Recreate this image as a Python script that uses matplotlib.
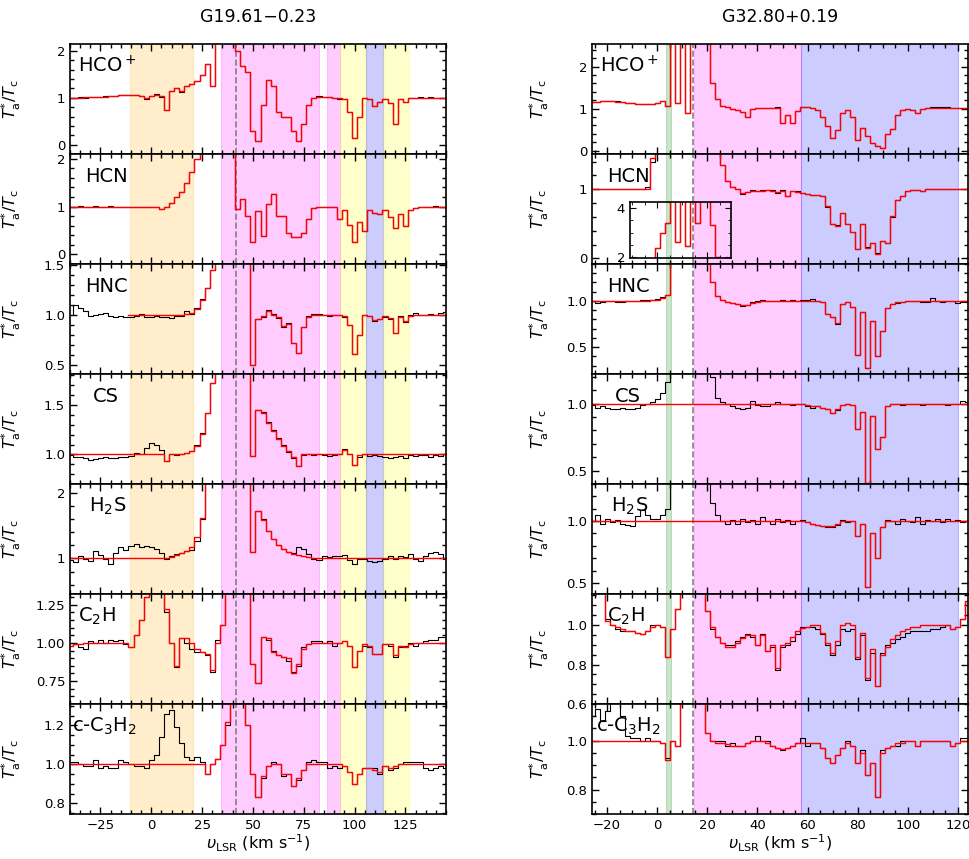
import numpy as np
import matplotlib.pyplot as plt
from matplotlib.ticker import MultipleLocator, AutoMinorLocator

plt.rcParams["font.family"] = "DejaVu Sans"
plt.rcParams["mathtext.fontset"] = "dejavusans"

# channel velocities (km/s)
v_g19 = np.arange(-40, 145.1, 2.5)
v_g32 = np.arange(-26, 124.1, 2.0)

# ---------------- G19.61-0.23 : T*a/Tc, observed and fitted ----------------
# 5.0 marks emission channels that run off the top of the panel
g19_hcop_obs = [1.00, 1.00, 1.01, 1.00, 1.02, 1.01, 1.02, 1.03, 1.03, 1.04,
                1.05, 1.06, 1.07, 1.06, 1.04, 0.98, 1.04, 1.08, 1.02, 0.74,
                1.15, 1.20, 1.13, 1.25, 1.30, 1.35, 1.48, 1.72, 1.25, 5.0,
                5.0, 5.0, 5.0, 2.00, 1.68, 1.55, 0.30, 0.08, 0.85, 1.38,
                1.25, 0.70, 0.60, 0.58, 0.30, 0.08, 0.45, 0.85, 1.00, 1.03,
                1.02, 1.01, 1.00, 0.98, 0.97, 0.70, 0.15, 0.60, 1.00, 0.98,
                0.82, 0.92, 0.97, 0.90, 0.45, 0.98, 0.92, 0.99, 1.00, 1.01,
                1.00, 1.01, 1.00, 1.00, 1.00]
g19_hcop_fit = [1.00, 1.00, 1.00, 1.01, 1.01, 1.01, 1.02, 1.02, 1.03, 1.04,
                1.05, 1.06, 1.06, 1.06, 1.04, 0.99, 1.04, 1.07, 1.03, 0.75,
                1.15, 1.20, 1.14, 1.25, 1.30, 1.35, 1.48, 1.72, 1.25, 5.0,
                5.0, 5.0, 5.0, 2.00, 1.68, 1.55, 0.30, 0.08, 0.85, 1.38,
                1.25, 0.70, 0.60, 0.58, 0.30, 0.08, 0.45, 0.85, 1.00, 1.02,
                1.02, 1.01, 1.00, 0.99, 0.97, 0.70, 0.15, 0.60, 1.00, 0.98,
                0.82, 0.92, 0.97, 0.90, 0.45, 0.98, 0.92, 0.99, 1.00, 1.00,
                1.00, 1.00, 1.00, 1.00, 1.00]

g19_hcn_obs = [1.00, 1.00, 1.01, 0.99, 1.00, 1.01, 1.00, 1.00, 1.01, 1.00,
               1.00, 1.00, 0.99, 1.00, 1.00, 1.00, 1.00, 1.00, 0.95, 1.00,
               1.08, 1.20, 1.30, 1.50, 1.72, 2.00, 5.0, 5.0, 5.0, 5.0,
               5.0, 5.0, 5.0, 0.95, 1.16, 0.80, 0.25, 0.90, 0.38, 1.05,
               1.27, 0.80, 0.80, 0.45, 0.36, 0.37, 0.45, 0.75, 0.97, 1.00,
               1.00, 1.00, 1.00, 0.75, 0.92, 0.62, 0.27, 0.68, 0.50, 0.92,
               0.87, 0.85, 0.92, 0.78, 0.55, 0.85, 0.60, 0.92, 0.97, 1.00,
               1.00, 1.00, 1.01, 1.00, 1.00]
g19_hcn_fit = [1.00, 1.00, 1.00, 1.00, 1.00, 1.00, 1.00, 1.00, 1.00, 1.00,
               1.00, 1.00, 1.00, 1.00, 1.00, 1.00, 1.00, 0.99, 0.96, 1.00,
               1.08, 1.20, 1.30, 1.50, 1.72, 2.00, 5.0, 5.0, 5.0, 5.0,
               5.0, 5.0, 5.0, 0.95, 1.16, 0.80, 0.25, 0.90, 0.38, 1.05,
               1.27, 0.80, 0.80, 0.45, 0.36, 0.37, 0.45, 0.75, 0.97, 1.00,
               1.00, 1.00, 1.00, 0.75, 0.92, 0.62, 0.27, 0.68, 0.50, 0.92,
               0.87, 0.85, 0.92, 0.78, 0.55, 0.85, 0.60, 0.92, 0.97, 1.00,
               1.00, 1.00, 1.00, 1.00, 1.00]

g19_hnc_obs = [1.00, 1.10, 1.07, 1.04, 0.99, 1.00, 1.01, 1.02, 0.99, 0.98,
               0.99, 0.98, 0.98, 0.99, 1.01, 0.98, 0.98, 0.99, 0.98, 0.98,
               0.97, 0.99, 0.99, 1.04, 1.01, 1.07, 1.16, 1.27, 1.45, 5.0,
               5.0, 5.0, 5.0, 5.0, 5.0, 5.0, 0.50, 0.96, 0.98, 1.05,
               1.01, 0.97, 0.88, 0.92, 0.72, 0.62, 0.88, 0.99, 1.01, 1.01,
               1.00, 0.99, 1.00, 1.00, 0.98, 0.90, 0.61, 0.80, 1.00, 0.99,
               0.94, 0.96, 0.98, 0.96, 0.82, 0.99, 0.93, 1.00, 1.02, 1.00,
               1.00, 1.01, 1.00, 1.02, 1.03]
g19_hnc_fit = [None, None, None, None, None, None, None, None, None, None,
               None, None, 1.00, 1.00, 1.00, 1.00, 1.00, 1.00, 1.00, 1.00,
               1.00, 1.00, 1.00, 1.01, 1.02, 1.06, 1.15, 1.27, 1.45, 5.0,
               5.0, 5.0, 5.0, 5.0, 5.0, 5.0, 0.50, 0.96, 0.99, 1.04,
               1.00, 0.98, 0.89, 0.91, 0.72, 0.62, 0.88, 0.98, 1.00, 1.00,
               1.00, 1.00, 1.00, 1.00, 0.99, 0.90, 0.61, 0.80, 1.00, 0.99,
               0.95, 0.96, 0.99, 0.97, 0.82, 0.98, 0.94, 0.99, 1.00, 1.00,
               1.00, 1.00, 1.00, 1.00, 1.00]

g19_cs_obs = [0.99, 0.97, 0.97, 0.96, 0.94, 0.95, 0.96, 0.97, 0.96, 0.96,
              0.97, 0.97, 0.98, 1.01, 1.00, 1.06, 1.12, 1.10, 1.04, 0.93,
              1.00, 0.99, 1.00, 1.01, 1.03, 1.10, 1.22, 1.42, 1.72, 5.0,
              5.0, 5.0, 5.0, 5.0, 5.0, 5.0, 0.98, 1.45, 1.43, 1.33,
              1.25, 1.17, 1.10, 1.02, 0.96, 0.88, 0.99, 1.00, 0.99, 1.00,
              0.99, 0.98, 0.99, 1.00, 1.05, 1.00, 0.89, 0.97, 1.00, 0.98,
              0.99, 0.98, 0.97, 0.96, 0.97, 0.98, 0.96, 0.99, 0.98, 0.99,
              0.99, 0.97, 0.99, 0.98, 1.00]
g19_cs_fit = [1.00, 1.00, 1.00, 1.00, 1.00, 1.00, 1.00, 1.00, 1.00, 1.00,
              1.00, 1.00, 1.00, 1.00, 1.00, 1.00, 1.00, 1.00, 1.00, 0.93,
              1.00, 1.00, 1.00, 1.01, 1.03, 1.09, 1.21, 1.42, 1.72, 5.0,
              5.0, 5.0, 5.0, 5.0, 5.0, 5.0, 0.98, 1.45, 1.42, 1.32,
              1.24, 1.16, 1.09, 1.03, 0.97, 0.88, 1.00, 1.00, 1.00, 1.00,
              1.00, 1.00, 1.00, 1.00, 1.04, 1.00, 0.89, 0.99, 1.00, 1.00,
              1.00, 1.00, 1.00, 1.00, 1.00, 1.00, 1.00, 1.00, 1.00, 1.00,
              1.00, 1.00, 1.00, 1.00, 1.00]

g19_h2s_obs = [0.97, 0.94, 1.04, 0.99, 0.96, 1.12, 1.05, 0.99, 0.91, 1.08,
               1.17, 1.13, 1.19, 1.22, 1.17, 1.19, 1.17, 1.14, 1.09, 0.99,
               1.04, 1.07, 1.09, 1.12, 1.13, 1.27, 1.60, 5.0, 5.0, 5.0,
               5.0, 5.0, 5.0, 5.0, 5.0, 5.0, 1.10, 1.72, 1.60, 1.42,
               1.30, 1.20, 1.14, 1.10, 1.09, 1.17, 1.14, 1.07, 0.99, 0.97,
               1.04, 1.02, 1.04, 1.04, 1.05, 0.97, 0.92, 0.99, 0.99, 0.96,
               0.94, 0.96, 0.99, 1.04, 0.99, 1.04, 1.02, 1.07, 0.99, 0.96,
               1.04, 1.08, 1.10, 1.07, 0.99]
g19_h2s_fit = [1.00, 1.00, 1.00, 1.00, 1.00, 1.00, 1.00, 1.00, 1.00, 1.00,
               1.00, 1.00, 1.00, 1.00, 1.00, 1.00, 1.00, 1.00, 1.00, 1.01,
               1.02, 1.05, 1.08, 1.12, 1.18, 1.32, 1.62, 5.0, 5.0, 5.0,
               5.0, 5.0, 5.0, 5.0, 5.0, 5.0, 1.10, 1.72, 1.58, 1.42,
               1.30, 1.21, 1.15, 1.10, 1.07, 1.05, 1.03, 1.02, 1.01, 1.00,
               1.00, 1.00, 1.00, 1.00, 1.00, 1.00, 1.00, 1.00, 1.00, 1.00,
               1.00, 1.00, 1.00, 1.00, 1.00, 1.00, 1.00, 1.00, 1.00, 1.00,
               1.00, 1.00, 1.00, 1.00, 1.00]

g19_c2h_obs = [0.98, 0.99, 0.97, 0.96, 1.01, 1.00, 1.02, 1.00, 1.02, 1.01,
               1.02, 0.99, 0.97, 1.05, 1.15, 1.30, 5.0, 5.0, 5.0, 1.20,
               1.00, 0.84, 1.03, 1.00, 0.96, 0.94, 0.94, 0.92, 0.81, 1.02,
               1.12, 5.0, 5.0, 5.0, 5.0, 5.0, 0.86, 0.74, 1.04, 1.02,
               0.95, 0.92, 0.91, 0.88, 0.81, 0.85, 0.97, 0.99, 1.01, 1.01,
               1.00, 1.01, 0.98, 1.00, 1.01, 0.98, 0.84, 0.95, 0.98, 0.97,
               0.93, 0.93, 0.99, 0.98, 0.91, 0.97, 0.98, 1.00, 0.98, 1.00,
               1.01, 1.02, 1.02, 1.04, 1.04]
g19_c2h_fit = [0.98, 0.99, 0.99, 1.00, 1.00, 1.00, 1.00, 1.00, 1.00, 1.00,
               1.00, 1.00, 0.97, 1.05, 1.15, 1.30, 5.0, 5.0, 5.0, 1.22,
               1.00, 0.85, 1.03, 1.03, 1.00, 0.96, 0.94, 0.93, 0.82, 1.00,
               1.12, 5.0, 5.0, 5.0, 5.0, 5.0, 0.86, 0.74, 1.04, 1.03,
               0.94, 0.92, 0.91, 0.90, 0.80, 0.86, 0.96, 0.99, 1.00, 1.00,
               1.00, 1.00, 1.00, 1.00, 1.01, 0.98, 0.84, 0.95, 0.99, 0.98,
               0.93, 0.93, 0.99, 0.99, 0.92, 0.98, 0.97, 0.99, 1.00, 1.00,
               1.00, 1.00, 1.00, 1.00, 1.00]

g19_cc3h2_obs = [1.01, 1.01, 1.00, 0.99, 0.99, 1.02, 0.98, 0.99, 0.98, 0.98,
                 1.02, 1.01, 1.00, 0.99, 0.99, 0.98, 1.02, 1.05, 1.14, 1.26,
                 1.28, 1.19, 1.11, 1.04, 1.02, 1.04, 1.01, 0.95, 1.00, 1.03,
                 1.10, 1.20, 5.0, 5.0, 5.0, 1.20, 0.95, 0.83, 0.93, 0.99,
                 1.01, 1.00, 0.94, 0.95, 0.89, 0.92, 0.97, 1.01, 1.02, 1.01,
                 1.01, 0.98, 0.99, 0.98, 0.99, 0.96, 0.90, 0.95, 0.98, 0.98,
                 0.98, 0.95, 0.99, 0.97, 0.98, 1.00, 1.01, 1.01, 1.01, 1.01,
                 0.98, 0.97, 0.98, 0.99, 0.98]
g19_cc3h2_fit = [1.00, 1.00, 1.00, 1.00, 1.00, 1.00, 1.00, 1.00, 1.00, 1.00,
                 1.00, 1.00, 1.00, 1.00, 1.00, 1.00, 1.00, 1.00, 1.00, 1.00,
                 1.00, 1.00, 1.00, 1.00, 1.00, 1.00, 1.00, 0.95, 1.00, 1.03,
                 1.10, 1.22, 5.0, 5.0, 5.0, 1.20, 0.95, 0.83, 0.94, 0.99,
                 1.00, 1.00, 0.95, 0.95, 0.89, 0.93, 0.97, 1.00, 1.00, 1.00,
                 1.00, 1.00, 1.00, 1.00, 0.99, 0.96, 0.90, 0.95, 0.98, 0.98,
                 0.97, 0.96, 0.99, 0.98, 0.99, 1.00, 1.00, 1.00, 1.00, 1.00,
                 1.00, 1.00, 1.00, 1.00, 1.00]

# ---------------- G32.80+0.19 : T*a/Tc, observed and fitted ----------------
g32_hcop_obs = [1.17, 1.17, 1.18, 1.19, 1.19, 1.18, 1.16, 1.14, 1.13, 1.12,
                1.11, 1.11, 1.12, 1.14, 1.19, 1.06, 5.0, 1.13, 5.0, 0.89,
                5.0, 5.0, 5.0, 3.00, 1.60, 1.22, 1.07, 1.04, 0.99, 0.97,
                0.92, 0.79, 0.98, 1.01, 1.01, 1.01, 1.02, 1.03, 0.65, 0.85,
                0.65, 0.95, 1.05, 1.04, 1.01, 0.97, 0.80, 0.58, 0.30, 0.50,
                0.89, 0.97, 0.80, 0.25, 0.55, 0.35, 0.18, 0.12, 0.07, 0.40,
                0.52, 0.85, 0.96, 0.98, 0.97, 0.90, 1.00, 1.02, 1.03, 1.03,
                1.03, 1.03, 1.02, 1.02, 1.02, 1.01]
g32_hcop_fit = [1.17, 1.17, 1.18, 1.18, 1.18, 1.17, 1.16, 1.14, 1.13, 1.12,
                1.11, 1.11, 1.12, 1.14, 1.19, 1.06, 5.0, 1.13, 5.0, 0.89,
                5.0, 5.0, 5.0, 3.00, 1.60, 1.22, 1.07, 1.04, 0.99, 0.97,
                0.92, 0.79, 0.98, 1.01, 1.01, 1.01, 1.02, 1.02, 0.65, 0.85,
                0.65, 0.95, 1.04, 1.04, 1.01, 0.97, 0.80, 0.58, 0.30, 0.50,
                0.89, 0.97, 0.80, 0.25, 0.55, 0.35, 0.18, 0.12, 0.07, 0.40,
                0.52, 0.85, 0.96, 0.98, 0.97, 0.90, 1.00, 1.02, 1.02, 1.02,
                1.02, 1.02, 1.02, 1.02, 1.02, 1.01]

g32_hcn_obs = [1.01, 1.01, 1.00, 1.01, 1.01, 1.00, 1.01, 1.00, 1.00, 1.00,
               1.01, 1.04, 1.40, 2.35, 3.00, 3.40, 5.0, 2.60, 5.0, 2.45,
               5.0, 3.40, 5.0, 5.0, 3.30, 2.00, 1.35, 1.12, 1.04, 1.00,
               0.93, 0.96, 0.99, 0.97, 0.99, 0.99, 0.99, 0.95, 0.99, 0.90,
               0.98, 0.97, 0.94, 0.93, 0.92, 0.92, 0.90, 0.75, 0.50, 0.48,
               0.65, 0.50, 0.38, 0.13, 0.50, 0.16, 0.22, 0.08, 0.25, 0.22,
               0.60, 0.84, 0.90, 0.98, 0.99, 0.99, 0.97, 1.00, 1.00, 1.01,
               1.01, 1.00, 1.00, 1.01, 1.00, 1.00]
g32_hcn_fit = [1.00, 1.00, 1.00, 1.00, 1.00, 1.00, 1.00, 1.00, 1.00, 1.00,
               1.00, 1.00, 1.45, 2.35, 3.00, 3.40, 5.0, 2.60, 5.0, 2.45,
               5.0, 3.40, 5.0, 5.0, 3.30, 2.00, 1.35, 1.12, 1.04, 1.00,
               0.94, 0.96, 0.98, 0.98, 0.98, 0.99, 0.98, 0.96, 0.98, 0.91,
               0.97, 0.96, 0.94, 0.93, 0.92, 0.92, 0.90, 0.76, 0.50, 0.47,
               0.65, 0.50, 0.38, 0.13, 0.50, 0.15, 0.22, 0.07, 0.25, 0.22,
               0.62, 0.84, 0.91, 0.98, 0.99, 0.99, 0.98, 1.00, 1.00, 1.00,
               1.00, 1.00, 1.00, 1.00, 1.00, 1.00]

g32_hnc_obs = [1.00, 0.98, 0.99, 1.00, 1.00, 0.99, 0.99, 1.00, 1.00, 1.00,
               1.01, 1.01, 1.01, 1.02, 1.04, 1.07, 5.0, 5.0, 5.0, 5.0,
               5.0, 5.0, 5.0, 5.0, 1.20, 1.05, 1.01, 0.99, 0.98, 0.97,
               0.95, 0.96, 0.99, 1.00, 1.01, 1.00, 1.00, 1.00, 1.01, 1.00,
               1.01, 1.00, 1.01, 1.01, 1.02, 1.00, 0.99, 0.86, 0.83, 0.75,
               0.97, 0.99, 0.93, 0.42, 0.88, 0.28, 0.78, 0.40, 0.68, 0.92,
               0.97, 0.98, 0.99, 1.00, 1.00, 1.00, 0.99, 0.99, 1.03, 1.00,
               0.99, 1.00, 1.00, 0.98, 0.99, 0.99]
g32_hnc_fit = [1.00, 1.00, 1.00, 1.00, 1.00, 1.00, 1.00, 1.00, 1.00, 1.00,
               1.00, 1.00, 1.01, 1.01, 1.03, 1.06, 5.0, 5.0, 5.0, 5.0,
               5.0, 5.0, 5.0, 5.0, 1.20, 1.05, 1.01, 0.99, 0.98, 0.97,
               0.96, 0.96, 0.98, 0.99, 1.00, 1.00, 1.00, 1.00, 1.00, 1.00,
               1.00, 1.00, 1.00, 1.00, 1.00, 1.00, 0.99, 0.86, 0.83, 0.76,
               0.97, 0.99, 0.93, 0.42, 0.88, 0.28, 0.78, 0.40, 0.68, 0.92,
               0.97, 0.99, 0.99, 1.00, 1.00, 1.00, 1.00, 1.00, 1.00, 1.00,
               1.00, 1.00, 1.00, 1.00, 1.00, 1.00]

g32_cs_obs = [0.99, 0.97, 0.98, 0.97, 0.96, 0.96, 0.97, 0.96, 0.96, 0.97,
              0.99, 1.00, 1.01, 1.03, 1.08, 1.16, 5.0, 5.0, 5.0, 5.0,
              5.0, 5.0, 5.0, 5.0, 1.20, 1.04, 1.01, 1.00, 0.98, 0.97,
              0.96, 0.97, 1.02, 0.99, 0.98, 0.98, 1.00, 1.01, 1.00, 1.00,
              0.99, 1.00, 1.00, 0.98, 0.97, 0.98, 0.97, 0.96, 0.93, 0.95,
              0.99, 1.00, 0.99, 0.81, 0.94, 0.41, 0.91, 0.66, 0.75, 0.98,
              1.00, 1.00, 0.99, 1.00, 1.00, 1.00, 0.99, 1.00, 1.00, 1.00,
              1.00, 0.99, 1.00, 1.00, 1.02, 1.01]
g32_cs_fit = [1.00, 1.00, 1.00, 1.00, 1.00, 1.00, 1.00, 1.00, 1.00, 1.00,
              1.00, 1.00, 1.00, 1.00, 1.00, 1.00, 1.00, 1.00, 1.00, 1.00,
              1.00, 1.00, 1.00, 1.00, 1.00, 1.00, 1.00, 1.00, 1.00, 1.00,
              1.00, 1.00, 1.00, 1.00, 1.00, 1.00, 1.00, 1.00, 1.00, 1.00,
              1.00, 1.00, 1.00, 0.99, 0.98, 0.98, 0.97, 0.96, 0.93, 0.96,
              0.99, 1.00, 0.99, 0.81, 0.94, 0.41, 0.91, 0.66, 0.75, 0.98,
              1.00, 1.00, 1.00, 1.00, 1.00, 1.00, 1.00, 1.00, 1.00, 1.00,
              1.00, 1.00, 1.00, 1.00, 1.00, 1.00]

g32_h2s_obs = [1.00, 1.05, 0.98, 1.02, 0.99, 1.01, 0.98, 0.97, 0.96, 1.04,
               1.09, 1.05, 1.02, 1.02, 1.05, 1.10, 5.0, 5.0, 5.0, 5.0,
               5.0, 5.0, 5.0, 5.0, 1.15, 1.05, 1.00, 0.98, 1.01, 0.98,
               1.02, 0.99, 1.01, 0.98, 1.03, 1.00, 0.98, 1.02, 0.99, 1.01,
               0.98, 1.00, 1.01, 0.99, 0.98, 0.97, 0.96, 0.95, 0.95, 0.97,
               1.01, 0.99, 1.00, 0.88, 0.98, 0.47, 0.90, 0.70, 0.95, 1.01,
               1.00, 0.98, 1.02, 1.00, 0.99, 1.03, 0.98, 1.01, 1.00, 1.02,
               0.99, 1.02, 1.00, 1.01, 0.99, 1.00]
g32_h2s_fit = [1.00, 1.00, 1.00, 1.00, 1.00, 1.00, 1.00, 1.00, 1.00, 1.00,
               1.00, 1.00, 1.00, 1.00, 1.00, 1.00, 1.00, 1.00, 1.00, 1.00,
               1.00, 1.00, 1.00, 1.00, 1.00, 1.00, 1.00, 1.00, 1.00, 1.00,
               1.00, 1.00, 1.00, 1.00, 1.00, 1.00, 1.00, 1.00, 1.00, 1.00,
               1.00, 1.00, 1.00, 0.99, 0.98, 0.97, 0.96, 0.96, 0.96, 0.98,
               1.00, 1.00, 1.00, 0.88, 0.98, 0.47, 0.90, 0.70, 0.95, 1.00,
               1.00, 1.00, 1.00, 1.00, 1.00, 1.00, 1.00, 1.00, 1.00, 1.00,
               1.00, 1.00, 1.00, 1.00, 1.00, 1.00]

g32_c2h_obs = [5.0, 5.0, 1.20, 1.03, 1.00, 0.98, 0.97, 0.97, 0.97, 0.96,
               0.955, 0.97, 1.00, 1.00, 0.99, 0.84, 0.98, 1.08, 5.0, 5.0,
               5.0, 5.0, 5.0, 1.07, 0.98, 0.94, 0.91, 0.90, 0.90, 0.92,
               0.94, 0.955, 0.94, 0.90, 0.955, 0.87, 0.89, 0.77, 0.89, 0.90,
               0.92, 0.955, 0.99, 0.99, 0.99, 0.98, 0.955, 0.90, 0.85, 0.90,
               0.98, 0.97, 0.98, 0.83, 0.95, 0.72, 0.86, 0.69, 0.86, 0.90,
               0.91, 0.93, 0.94, 0.96, 0.97, 0.97, 0.97, 0.97, 0.98, 0.98,
               0.99, 1.00, 0.98, 0.99, 1.03, 1.12]
g32_c2h_fit = [5.0, 5.0, 1.20, 1.02, 1.00, 0.99, 0.98, 0.97, 0.97, 0.96,
               0.955, 0.97, 0.99, 1.00, 0.99, 0.84, 0.98, 1.08, 5.0, 5.0,
               5.0, 5.0, 5.0, 1.07, 0.99, 0.94, 0.91, 0.89, 0.89, 0.91,
               0.935, 0.95, 0.95, 0.90, 0.95, 0.87, 0.90, 0.78, 0.90, 0.91,
               0.94, 0.97, 0.985, 0.99, 1.00, 1.00, 0.96, 0.91, 0.86, 0.92,
               1.00, 1.01, 1.00, 0.84, 0.96, 0.73, 0.88, 0.69, 0.85, 0.89,
               0.93, 0.95, 0.97, 0.98, 0.99, 0.99, 1.00, 1.00, 1.00, 1.00,
               1.00, 1.00, 0.98, 0.99, 1.03, 1.12]

g32_cc3h2_obs = [1.10, 1.13, 1.08, 1.12, 1.16, 5.0, 1.10, 1.02, 1.01, 1.01,
                 1.00, 1.01, 1.00, 1.00, 0.99, 0.93, 1.00, 0.98, 5.0, 5.0,
                 5.0, 5.0, 5.0, 1.03, 1.00, 1.00, 1.00, 0.98, 0.99, 0.98,
                 0.98, 0.99, 1.00, 1.02, 1.00, 1.00, 0.98, 0.97, 0.96, 0.97,
                 0.98, 0.99, 1.01, 0.98, 0.99, 0.99, 0.97, 0.93, 0.91, 0.94,
                 0.97, 1.00, 0.98, 0.91, 0.96, 0.86, 0.91, 0.77, 0.96, 0.97,
                 0.98, 0.98, 1.00, 1.00, 1.00, 0.98, 1.00, 1.00, 1.00, 1.00,
                 1.00, 1.00, 0.98, 0.99, 1.01, 1.01]
g32_cc3h2_fit = [1.00, 1.00, 1.00, 1.00, 1.00, 1.00, 1.00, 1.00, 1.00, 1.00,
                 1.00, 1.00, 1.00, 1.00, 0.99, 0.92, 1.00, 0.98, 5.0, 5.0,
                 5.0, 5.0, 5.0, 1.03, 1.00, 0.99, 0.99, 0.985, 0.98, 0.98,
                 0.98, 0.99, 1.00, 1.00, 1.00, 0.99, 0.98, 0.97, 0.965, 0.97,
                 0.98, 0.99, 0.99, 0.99, 0.99, 0.99, 0.97, 0.93, 0.91, 0.94,
                 0.97, 0.99, 0.98, 0.91, 0.95, 0.86, 0.91, 0.77, 0.95, 0.97,
                 0.98, 0.99, 0.99, 1.00, 1.00, 0.98, 1.00, 1.00, 1.00, 1.00,
                 1.00, 1.00, 0.98, 0.99, 1.00, 1.00]

molecules = ["HCO$^+$", "HCN", "HNC", "CS", "H$_2$S", "C$_2$H", "c-C$_3$H$_2$"]

g19_obs = [g19_hcop_obs, g19_hcn_obs, g19_hnc_obs, g19_cs_obs,
           g19_h2s_obs, g19_c2h_obs, g19_cc3h2_obs]
g19_fit = [g19_hcop_fit, g19_hcn_fit, g19_hnc_fit, g19_cs_fit,
           g19_h2s_fit, g19_c2h_fit, g19_cc3h2_fit]
g32_obs = [g32_hcop_obs, g32_hcn_obs, g32_hnc_obs, g32_cs_obs,
           g32_h2s_obs, g32_c2h_obs, g32_cc3h2_obs]
g32_fit = [g32_hcop_fit, g32_hcn_fit, g32_hnc_fit, g32_cs_fit,
           g32_h2s_fit, g32_c2h_fit, g32_cc3h2_fit]

# velocity components (shaded) and systemic velocity
g19_bands = [(-10.5, 20.5, "orange"), (34.5, 82.5, "magenta"), (86.5, 93.0, "magenta"),
             (93.0, 105.5, "yellow"), (105.5, 114.0, "blue"), (114.0, 127.0, "yellow")]
g32_bands = [(3.7, 5.6, "green"), (14.5, 57.5, "magenta"), (57.5, 120.0, "blue")]
g19_vsys = 41.6
g32_vsys = 14.4

# panel layout (axis limits, tick steps, label offsets)
g19_ylim = [(-0.2, 2.15), (-0.2, 2.1), (0.41, 1.51), (0.70, 1.815),
            (0.46, 2.13), (0.60, 1.32), (0.745, 1.31)]
g19_ystep = [1, 1, 0.5, 0.5, 1, 0.25, 0.2]
g19_lab_x = [0.02, 0.04, 0.04, 0.06, 0.05, 0.02, 0.005]
g32_ylim = [(-0.08, 2.54), (-0.08, 1.51), (0.21, 1.40), (0.40, 1.22),
            (0.41, 1.30), (0.60, 1.157), (0.70, 1.15)]
g32_ystep = [1, 1, 0.5, 0.5, 0.5, 0.2, 0.2]
g32_lab_x = [0.02, 0.04, 0.04, 0.06, 0.05, 0.04, 0.01]

W, H = 969, 859
fig = plt.figure(figsize=(W / 100, H / 100), dpi=100)


def style_axis(ax, xstep, xminor, ystep):
    ax.xaxis.set_major_locator(MultipleLocator(xstep))
    ax.xaxis.set_minor_locator(AutoMinorLocator(xminor))
    ax.yaxis.set_major_locator(MultipleLocator(ystep))
    ax.yaxis.set_minor_locator(AutoMinorLocator())
    ax.tick_params(which="both", direction="in", top=True, right=True,
                   labelsize=9.5, width=1.0)
    ax.tick_params(which="major", length=5)
    ax.tick_params(which="minor", length=2.8)
    for s in ax.spines.values():
        s.set_linewidth(1.2)


def draw_spectrum(ax, v, obs, fit, bands, vsys):
    for lo, hi, c in bands:
        ax.axvspan(lo, hi, color=c, alpha=0.2, lw=0.8)
    ax.axvline(vsys, color="gray", ls="--", lw=1.2)
    ax.step(v, np.array(obs, dtype=float), where="mid", color="black", lw=0.8)
    ax.step(v, np.array(fit, dtype=float), where="mid", color="red", lw=1.0)


columns = [
    (70, v_g19, g19_obs, g19_fit, g19_bands, g19_vsys, (-40, 145), 25, 5,
     g19_ylim, g19_ystep, g19_lab_x, "G19.61\u22120.23", -0.125),
    (592, v_g32, g32_obs, g32_fit, g32_bands, g32_vsys, (-26, 124), 20, 4,
     g32_ylim, g32_ystep, g32_lab_x, "G32.80+0.19", -0.11),
]

for (x0, v, obs_list, fit_list, bands, vsys, xlim, xstep, xminor,
     ylims, ysteps, lab_x, title, ylab_x) in columns:
    for i in range(7):
        ax = fig.add_axes([x0 / W, 1 - (44 + 110 * (i + 1)) / H, 376 / W, 110 / H])
        draw_spectrum(ax, v, obs_list[i], fit_list[i], bands, vsys)
        ax.set_xlim(*xlim)
        ax.set_ylim(*ylims[i])
        style_axis(ax, xstep, xminor, ysteps[i])
        ax.text(lab_x[i], 0.8, molecules[i], transform=ax.transAxes,
                fontsize=14, ha="left", va="center")
        ax.set_ylabel(r"$T^{*}_{\rm a}/T_{\rm c}$", fontsize=11.5)
        ax.yaxis.set_label_coords(ylab_x, 0.5)
        if i < 6:
            ax.tick_params(labelbottom=False)
    cx = (x0 + 188) / W
    fig.text(cx, 1 - 17 / H, title, ha="center", va="center", fontsize=12.5)
    fig.text(cx, 1 - 843 / H, r"$\upsilon_{\rm LSR}$ (km s$^{-1}$)",
             ha="center", va="center", fontsize=11.5)

# zoom-in on the strong HCN emission of G32.80+0.19
axin = fig.add_axes([630 / W, 1 - 258 / H, 101 / W, 56 / H])
draw_spectrum(axin, v_g32, g32_hcn_obs, g32_hcn_fit, g32_bands, g32_vsys)
axin.set_xlim(-10.8, 29.4)
axin.set_ylim(1.96, 4.25)
axin.yaxis.set_major_locator(MultipleLocator(2))
axin.yaxis.set_minor_locator(MultipleLocator(0.5))
axin.xaxis.set_major_locator(MultipleLocator(20))
axin.xaxis.set_minor_locator(MultipleLocator(5))
axin.tick_params(which="both", direction="in", top=True, right=True,
                 labelbottom=False, labelsize=9.5)
axin.tick_params(which="major", length=4)
axin.tick_params(which="minor", length=2)
for s in axin.spines.values():
    s.set_linewidth(1.2)

fig.savefig("out.png", dpi=100)
